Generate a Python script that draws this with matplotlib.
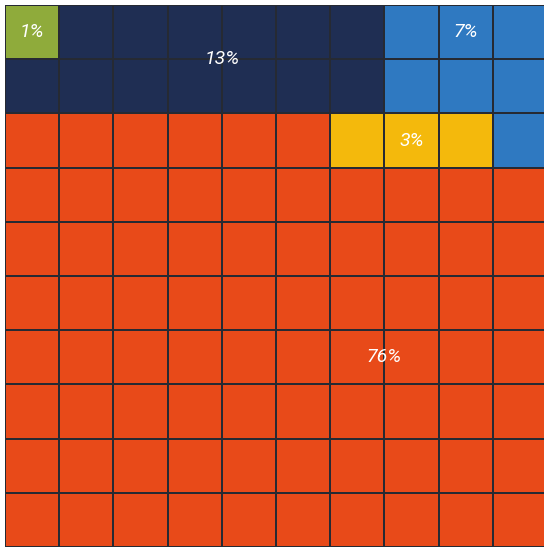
import matplotlib
matplotlib.use("Agg")
import matplotlib.pyplot as plt
from matplotlib.colors import ListedColormap
import numpy as np

# waffle layout, one letter per cell (top row first)
layout = [
    "GNNNNNNBBB",
    "NNNNNNNBBB",
    "OOOOOOYYYB",
    "OOOOOOOOOO",
    "OOOOOOOOOO",
    "OOOOOOOOOO",
    "OOOOOOOOOO",
    "OOOOOOOOOO",
    "OOOOOOOOOO",
    "OOOOOOOOOO",
]
cats = ["G", "N", "B", "Y", "O"]
colors = ["#8fab3b", "#1f2e53", "#2f79c1", "#f4b90c", "#e84a19"]
# where each percentage text sits (grid col, grid row)
label_pos = {"G": (0.5, 0.5), "N": (4.0, 1.0), "B": (8.5, 0.5),
             "Y": (7.5, 2.5), "O": (7.0, 6.5)}

grid = np.array([[cats.index(ch) for ch in row] for row in layout])
counts = {c: int((grid == i).sum()) for i, c in enumerate(cats)}

fig = plt.figure(figsize=(5.44, 5.47), dpi=100)
W, H = 544, 547
ax = fig.add_axes([5 / W, 0 / H, 542 / W, 542 / H])
ax.pcolormesh(grid, cmap=ListedColormap(colors), vmin=-0.5, vmax=len(cats) - 0.5,
              edgecolors="#262a33", linewidth=1.3)
ax.set_xlim(0, 10)
ax.set_ylim(10, 0)
ax.axis("off")

for c in cats:
    x, y = label_pos[c]
    ax.text(x, y, f"{counts[c]}%", color="white", fontsize=14, style="italic",
            family="Roboto", ha="center", va="center")

fig.savefig("out.png", dpi=100)
